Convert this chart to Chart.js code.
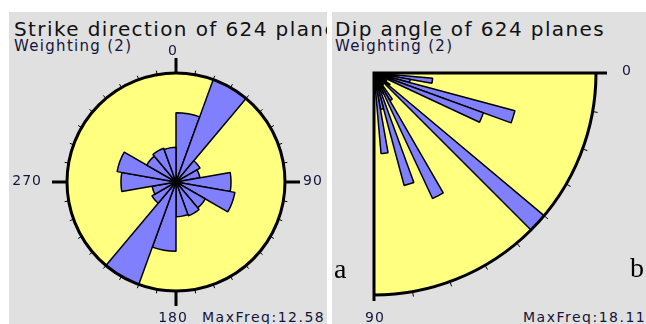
<!DOCTYPE html>
<html>
<head>
<meta charset="utf-8">
<script src="https://cdn.jsdelivr.net/npm/chart.js@4/dist/chart.umd.min.js"></script>
<style>
  html, body { margin: 0; padding: 0; background: #fff; }
  body { position: relative; width: 646px; height: 324px; overflow: hidden;
         font-family: "DejaVu Sans", Verdana, sans-serif; color: #14143c; }
  .panel { position: absolute; top: 12px; height: 312px; background: #e0e0e0; overflow: hidden; }
  .title { position: absolute; font-size: 20px; line-height: 20px; letter-spacing: 1.4px; white-space: nowrap; color: #111; }
  .sub   { position: absolute; font-size: 15px; line-height: 15px; letter-spacing: 1.3px; white-space: nowrap; }
  .note  { position: absolute; font-size: 14px; line-height: 14px; letter-spacing: 1.5px; white-space: nowrap; }
  canvas { position: absolute; }
  .tag { position: absolute; font-family: "Liberation Serif", "Times New Roman", serif;
         font-size: 28px; line-height: 28px; color: #000; }
</style>
</head>
<body>
<div class="panel" style="left:9px; width:318px;">
  <div class="title" style="left:5px; top:7px;">Strike direction of 624 planes</div>
  <div class="sub" style="left:5px; top:27px;">Weighting (2)</div>
  <div class="note" style="left:193px; top:298px;">MaxFreq:12.58</div>
</div>
<div class="panel" style="left:332px; width:314px;">
  <div class="title" style="left:3px; top:7px;">Dip angle of 624 planes</div>
  <div class="sub" style="left:3px; top:27px;">Weighting (2)</div>
  <div class="note" style="left:191px; top:298px;">MaxFreq:18.11</div>
</div>

<canvas id="strike" width="338" height="338" style="left:7px; top:13px; width:338px; height:338px;"></canvas>
<canvas id="dip" width="544" height="544" style="left:102px; top:-199px; width:544px; height:544px;"></canvas>

<div class="tag" style="left:334px; top:255px;">a</div>
<div class="tag" style="left:630px; top:254px;">b</div>

<script>
// Strike directions, 20° classes clockwise from north (bidirectional rose)
const strikeBins = ['0-20', '20-40', '40-60', '60-80', '80-100', '100-120', '120-140', '140-160', '160-180',
                    '180-200', '200-220', '220-240', '240-260', '260-280', '280-300', '300-320', '320-340', '340-360'];
const strikeFreq = [8.0, 12.58, 3.2, 2.8, 6.35, 6.9, 3.9, 4.15, 4.0,
                    8.0, 12.58, 3.2, 2.8, 6.35, 6.9, 3.9, 4.15, 4.0];
const strikeMax = 12.58;

// Dip angles, 5° classes from horizontal (0) to vertical (90)
const dipBins = ['0-5', '5-10', '10-15', '15-20', '20-25', '25-30', '30-35', '35-40', '40-45',
                 '45-50', '50-55', '55-60', '60-65', '65-70', '70-75', '75-80', '80-85', '85-90'];
const dipFreq = [0.8, 4.8, 3.0, 11.9, 9.5, 1.0, 1.2, 1.6, 18.11,
                 0.9, 1.2, 2.6, 11.3, 1.8, 9.5, 3.0, 6.6, 1.0];
const dipMax = 18.11;

const compassLabels = ['0', '90', '180', '270'];
const dipAxisLabels = ['0', '90'];

const PETAL = '#8080ff';
const DISK = '#ffff80';
const INK = '#000';
const TEXT = '#14143c';
const LABEL_FONT = '14px "DejaVu Sans", Verdana, sans-serif';

const rad = d => d * Math.PI / 180;

// Outer ring, 10° ticks and compass labels of the strike rose
const strikeDecor = {
  id: 'strikeDecor',
  afterDatasetsDraw(chart) {
    const s = chart.scales.r, ctx = chart.ctx;
    const cx = s.xCenter, cy = s.yCenter, R = s.drawingArea;
    ctx.save();
    ctx.strokeStyle = INK;
    ctx.lineWidth = 3;
    ctx.beginPath();
    ctx.arc(cx, cy, R, 0, Math.PI * 2);
    ctx.stroke();
    for (let d = 0; d < 360; d += 10) {
      const a = rad(d - 90);
      const major = d % 90 === 0;
      const len = major ? 15 : 4;
      ctx.lineWidth = major ? 3 : 1;
      ctx.beginPath();
      ctx.moveTo(cx + Math.cos(a) * R, cy + Math.sin(a) * R);
      ctx.lineTo(cx + Math.cos(a) * (R + len), cy + Math.sin(a) * (R + len));
      ctx.stroke();
    }
    ctx.fillStyle = TEXT;
    ctx.font = LABEL_FONT;
    ctx.letterSpacing = '1px';
    ctx.textBaseline = 'alphabetic';
    ctx.textAlign = 'center';
    ctx.fillText(compassLabels[0], cx - 3, cy - R - 18);
    ctx.fillText(compassLabels[2], cx - 3, cy + R + 31);
    ctx.textAlign = 'left';
    ctx.fillText(compassLabels[1], cx + R + 18, cy + 3);
    ctx.textAlign = 'right';
    ctx.fillText(compassLabels[3], cx - R - 25, cy + 3);
    ctx.restore();
  }
};

// Quarter disk, axes, 10° ticks and labels of the dip rose
const dipDecor = {
  id: 'dipDecor',
  beforeDatasetsDraw(chart) {
    const s = chart.scales.r, ctx = chart.ctx;
    const cx = s.xCenter, cy = s.yCenter, R = s.drawingArea;
    ctx.save();
    ctx.fillStyle = DISK;
    ctx.beginPath();
    ctx.moveTo(cx, cy);
    ctx.arc(cx, cy, R, 0, Math.PI / 2);
    ctx.closePath();
    ctx.fill();
    ctx.restore();
  },
  afterDatasetsDraw(chart) {
    const s = chart.scales.r, ctx = chart.ctx;
    const cx = s.xCenter, cy = s.yCenter, R = s.drawingArea;
    ctx.save();
    ctx.strokeStyle = INK;
    ctx.lineWidth = 3;
    ctx.beginPath();
    ctx.arc(cx, cy, R, 0, Math.PI / 2);
    ctx.stroke();
    ctx.beginPath();
    ctx.moveTo(cx - 1.5, cy);
    ctx.lineTo(cx + R + 11, cy);
    ctx.moveTo(cx, cy - 1.5);
    ctx.lineTo(cx, cy + R + 6);
    ctx.stroke();
    ctx.lineWidth = 1;
    for (let d = 10; d < 90; d += 10) {
      const a = rad(d);
      ctx.beginPath();
      ctx.moveTo(cx + Math.cos(a) * R, cy + Math.sin(a) * R);
      ctx.lineTo(cx + Math.cos(a) * (R + 5), cy + Math.sin(a) * (R + 5));
      ctx.stroke();
    }
    ctx.fillStyle = TEXT;
    ctx.font = LABEL_FONT;
    ctx.letterSpacing = '1px';
    ctx.textBaseline = 'alphabetic';
    ctx.textAlign = 'left';
    ctx.fillText(dipAxisLabels[0], cx + R + 26, cy + 2);
    ctx.textAlign = 'center';
    ctx.fillText(dipAxisLabels[1], cx + 1, cy + R + 27);
    ctx.restore();
  }
};

function roseOptions(max, pad, startAngle, disk) {
  return {
    responsive: false,
    animation: false,
    layout: { padding: pad },
    plugins: { legend: { display: false }, tooltip: { enabled: false }, title: { display: false } },
    scales: {
      r: {
        min: 0,
        max: max,
        startAngle: startAngle,
        backgroundColor: disk,
        ticks: { display: false },
        grid: { display: false },
        angleLines: { display: false },
        pointLabels: { display: false }
      }
    }
  };
}

new Chart(document.getElementById('strike'), {
  type: 'polarArea',
  data: {
    labels: strikeBins,
    datasets: [{ data: strikeFreq, backgroundColor: PETAL, borderColor: INK, borderWidth: 1.5 }]
  },
  options: roseOptions(strikeMax, 60, 0, DISK),
  plugins: [strikeDecor]
});

// The dip rose spans one quadrant: the remaining 5° classes of the circle stay empty
const dipLabels = dipBins.concat(new Array(72 - dipBins.length).fill(''));
const dipData = dipFreq.concat(new Array(72 - dipFreq.length).fill(0));

new Chart(document.getElementById('dip'), {
  type: 'polarArea',
  data: {
    labels: dipLabels,
    datasets: [{ data: dipData, backgroundColor: PETAL, borderColor: INK, borderWidth: 1.5 }]
  },
  options: roseOptions(dipMax, 50, 90, undefined),
  plugins: [dipDecor]
});
</script>
</body>
</html>
